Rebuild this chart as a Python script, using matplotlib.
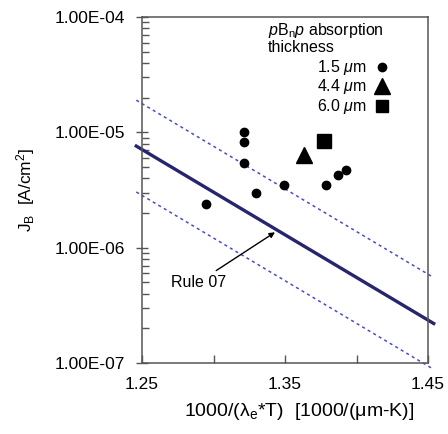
import matplotlib
matplotlib.use("Agg")
import matplotlib.pyplot as plt

# Data
# ****
# pBnp, 1.5 um absorber
x_15 = [1.295, 1.321, 1.321, 1.321, 1.330, 1.349, 1.379, 1.387, 1.393]
j_15 = [2.4e-6, 1.0e-5, 8.2e-6, 5.4e-6, 3.0e-6, 3.5e-6, 3.5e-6, 4.3e-6, 4.7e-6]
# 4.4 um absorber
x_44 = [1.363]
j_44 = [6.35e-6]
# 6.0 um absorber
x_60 = [1.377]
j_60 = [8.4e-6]

# Rule 07 line and its factor-of-2.5 band (end points)
rule_x = [1.246, 1.454]
rule_j = [7.6e-6, 2.2e-7]
upper_j = [1.9e-5, 5.5e-7]
lower_j = [3.04e-6, 8.8e-8]

x_ticks = [1.25, 1.35, 1.45]
x_minor = [1.30, 1.40]
y_ticks = [1e-7, 1e-6, 1e-5, 1e-4]
y_labels = ["1.00E-07", "1.00E-06", "1.00E-05", "1.00E-04"]

# Styling
# *******
plt.rcParams["font.family"] = ["Liberation Sans", "DejaVu Sans"]
plt.rcParams["mathtext.fontset"] = "custom"
plt.rcParams["mathtext.rm"] = "Liberation Sans"
plt.rcParams["mathtext.it"] = "Liberation Sans:italic"
fs = 12.5
fs_small = 11.5
axis_col = "#555555"
navy = "#26256e"
blue = "#4a4ad0"

fig = plt.figure(figsize=(4.48, 4.34), dpi=100)
ax = fig.add_axes([142 / 448, 71 / 434, 286 / 448, 346 / 434])

# Lines
ax.plot(rule_x, rule_j, color=navy, lw=2.4, clip_on=False, zorder=2)
ax.plot(rule_x, upper_j, color=blue, lw=1.1, ls=(0, (2, 2.2)), clip_on=False, zorder=2)
ax.plot(rule_x, lower_j, color=blue, lw=1.1, ls=(0, (2, 2.2)), clip_on=False, zorder=2)

# Points
ax.plot(x_15, j_15, "o", color="black", ms=6, zorder=3)
ax.plot(x_44, j_44, "^", color="black", ms=11, zorder=3)
ax.plot(x_60, j_60, "s", color="black", ms=10, zorder=3)

# Axes
ax.set_yscale("log")
ax.set_xlim(1.25, 1.45)
ax.set_ylim(1e-7, 1e-4)
ax.set_xticks(x_ticks)
ax.set_xticks(x_minor, minor=True)
ax.set_xticklabels([f"{v:.2f}" for v in x_ticks], fontsize=fs)
ax.set_yticks(y_ticks)
ax.set_yticklabels(y_labels, fontsize=fs)
ax.yaxis.set_minor_formatter(matplotlib.ticker.NullFormatter())
ax.tick_params(axis="y", which="major", direction="inout", length=9, width=1, color=axis_col, pad=8)
ax.tick_params(axis="y", which="minor", direction="in", length=5, width=1, color=axis_col)
ax.tick_params(axis="x", which="both", direction="in", length=6, width=1, color=axis_col, pad=10)
for s in ax.spines.values():
    s.set_color(axis_col)
    s.set_linewidth(1.1)

ax.set_ylabel(r"J$_\mathregular{B}$  [A/cm$^\mathregular{2}$]", fontsize=fs, labelpad=12)
fig.text(299 / 448, 1 - 412 / 434, r"1000/(λ$_\mathregular{e}$*T)  [1000/(μm-K)]",
         fontsize=14, ha="center", va="center")

# Rule 07 annotation
ax.annotate("Rule 07", xy=(1.343, 1.36e-6), xytext=(1.3085, 5.0e-7),
            fontsize=fs_small, ha="right", va="center",
            arrowprops=dict(arrowstyle="-|>", color="black", lw=1, mutation_scale=8,
                            shrinkA=2, shrinkB=0))

# Legend drawn by hand
ax.text(0.44, 0.962, r"$p$B$_\mathregular{n}$$p$ absorption", transform=ax.transAxes,
        fontsize=fs_small, ha="left", va="center")
ax.text(0.44, 0.913, "thickness", transform=ax.transAxes, fontsize=fs_small,
        ha="left", va="center")
leg_y = [0.855, 0.800, 0.742]
leg_lab = [r"1.5 $\mu$m", r"4.4 $\mu$m", r"6.0 $\mu$m"]
leg_mk = ["o", "^", "s"]
leg_ms = [6, 11, 9]
for yy, lab, mk, ms in zip(leg_y, leg_lab, leg_mk, leg_ms):
    ax.text(0.787, yy, lab, transform=ax.transAxes, fontsize=fs_small, ha="right", va="center")
    ax.plot([0.838], [yy], mk, color="black", ms=ms, transform=ax.transAxes)

fig.savefig("out.png", dpi=100)
